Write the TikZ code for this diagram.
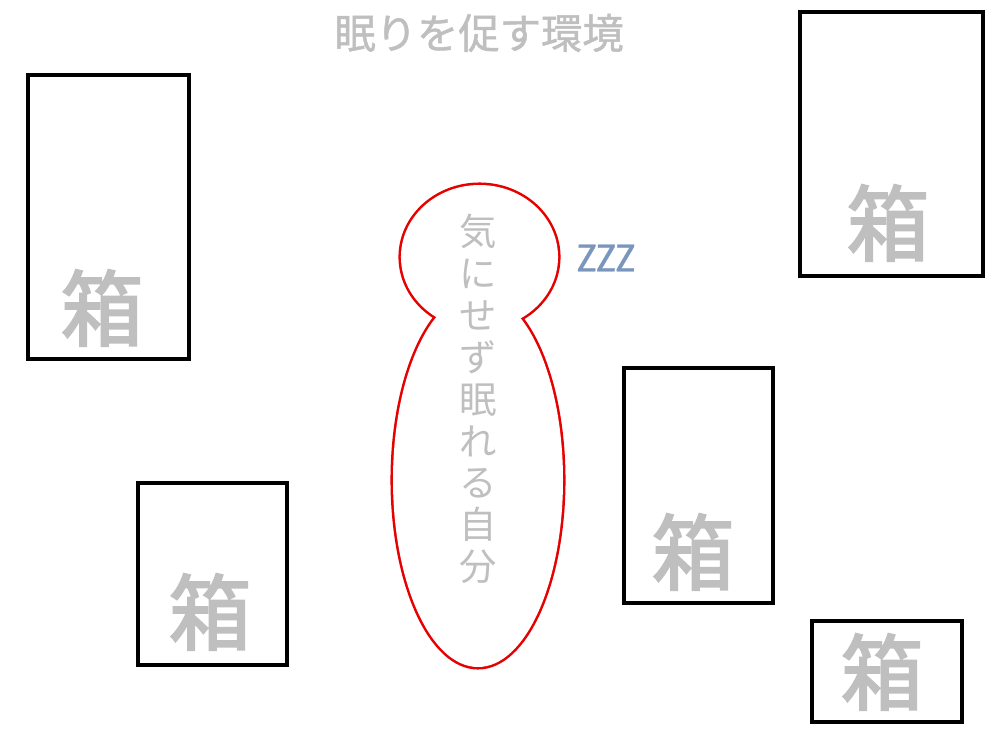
\documentclass[tikz,border=0pt]{standalone}
\usepackage{fontspec}
\setmainfont{Noto Sans CJK JP}
\newfontfamily\latinfont[FakeBold=1]{Carlito}
\newfontfamily\boxfont[FakeBold=2.5]{Noto Sans CJK JP}
\newfontfamily\titlefont[FakeBold=1.2]{Noto Sans CJK JP}
\definecolor{txtgray}{RGB}{191,191,191}
\definecolor{zzzblue}{RGB}{122,150,188}
\definecolor{figred}{RGB}{230,0,0}
\begin{document}
\begin{tikzpicture}[x=0.75pt,y=-0.75pt,
  box/.style={draw=black,line width=2.6pt},
  boxlabel/.style={text=txtgray,font=\boxfont\fontsize{62pt}{62pt}\selectfont,inner sep=0pt},
  figline/.style={draw=figred,line width=3.8pt},
  figfill/.style={fill=white}]
\useasboundingbox (0,0) rectangle (1000,750);
% title
\node[text=txtgray,font=\titlefont\fontsize{31pt}{31pt}\selectfont,inner sep=0pt] (title) at (479,33) {眠りを促す環境};
% boxes
\draw[box] (28,75) rectangle (189,359) coordinate (b1);
\node[boxlabel] (l1) at (102,308) {箱};
\draw[box] (800,12) rectangle (983,276) coordinate (b2);
\node[boxlabel] (l2) at (888,223) {箱};
\draw[box] (624,368) rectangle (773,603) coordinate (b3);
\node[boxlabel] (l3) at (693,552) {箱};
\draw[box] (812,621) rectangle (962,722) coordinate (b4);
\node[boxlabel] (l4) at (882,672) {箱};
\draw[box] (138,483) rectangle (287,665) coordinate (b5);
\node[boxlabel] (l5) at (210,612) {箱};
% figure
\coordinate (head) at (479.5,257);
\coordinate (body) at (478,480);
\draw[figline] (head) ellipse [x radius=58.9pt, y radius=54pt];
\draw[figline] (body) ellipse [x radius=63.75pt, y radius=140.25pt];
\fill[figfill] (head) ellipse [x radius=58.9pt, y radius=54pt];
\fill[figfill] (body) ellipse [x radius=63.75pt, y radius=140.25pt];
\node[text=txtgray,font=\fontsize{28pt}{31.4pt}\selectfont,align=center,inner sep=0pt] (self) at (478,399) {気\\に\\せ\\ず\\眠\\れ\\る\\自\\分};
% zzz
\node[text=zzzblue,font=\latinfont\fontsize{31pt}{31pt}\selectfont,inner sep=0pt] (zzz) at (606,258) {ZZZ};
\end{tikzpicture}
\end{document}
